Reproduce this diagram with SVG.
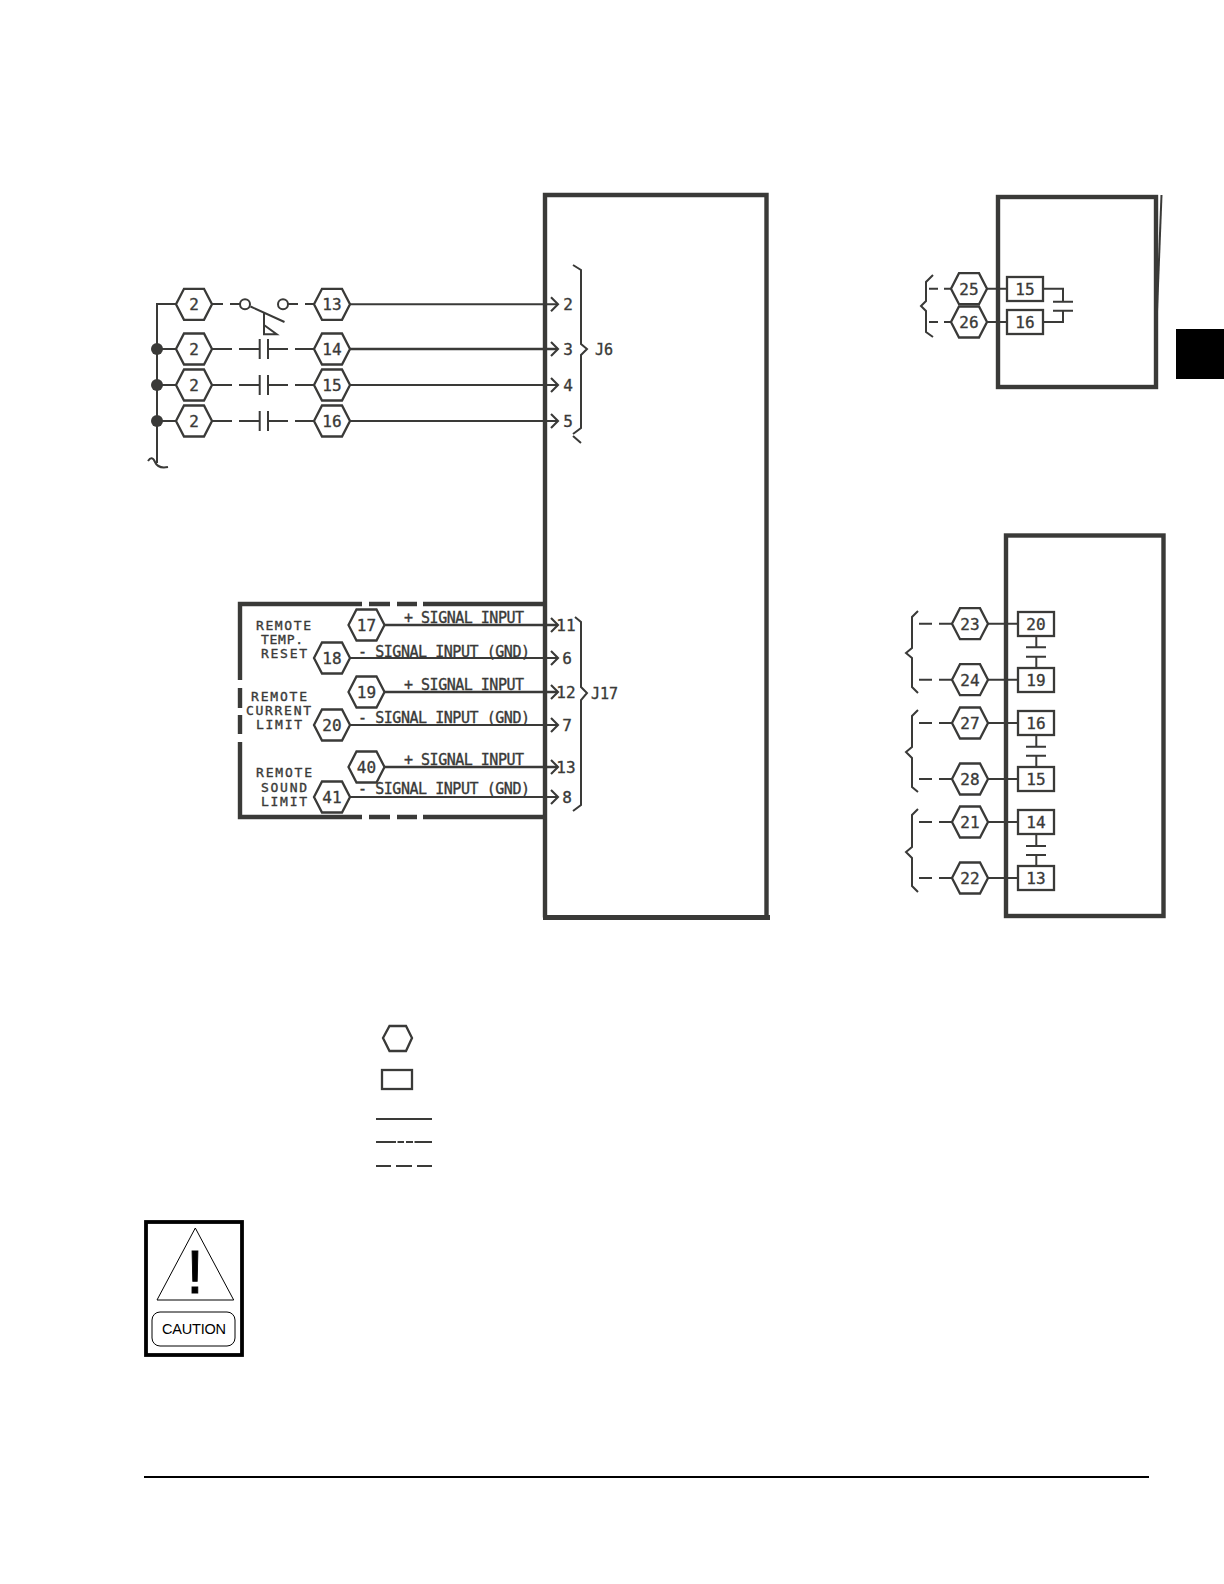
<svg xmlns="http://www.w3.org/2000/svg" width="1224" height="1584" viewBox="0 0 1224 1584">
<style>
.w{fill:none;stroke:#3a3a38;stroke-width:2}
.t{stroke-width:2.6}
.b{fill:none;stroke:#3a3a38;stroke-width:4.4}
.s{fill:#fff;stroke:#3a3a38;stroke-width:2.3}
.m{fill:#3a3a38;font-family:"DejaVu Sans Mono","Liberation Mono",monospace;font-size:15px;stroke:#3a3a38;stroke-width:.35}
.n{text-anchor:middle;font-size:16px}
.r{font-size:13px}
</style>
<defs>
<polygon id="hex" class="s" points="-18,0 -10,-15.5 10,-15.5 18,0 10,15.5 -10,15.5"/>
<marker id="arrow" markerUnits="userSpaceOnUse" markerWidth="12" markerHeight="18" refX="9" refY="9" orient="auto"><path d="M2,2 L9,9 L2,16" fill="none" stroke="#3a3a38" stroke-width="2.1"/></marker>
</defs>
<rect width="1224" height="1584" fill="#fff"/>
<g id="main-box"><path class="b" d="M545,917.5V195H766.5V917.5"/><path d="M543,917.5H770" fill="none" stroke="#3a3a38" stroke-width="5"/></g>
<g id="panel"><path class="b" d="M362,604H240V680M240,688V708M240,715V734M240,742V817H362M369,604H390M397,604H417M423,604H547M369,817H390M397,817H417M423,817H547"/></g>
<g id="box-top"><rect class="b" x="998" y="197" width="158" height="190"/><path class="w" d="M1161.5,195L1155.5,350"/></g>
<g id="box-bottom"><rect class="b" x="1006" y="535.5" width="157.5" height="380.5"/></g>
<rect id="tab" x="1176" y="329" width="48" height="50" fill="#000"/>
<g id="connectors">
<path class="w" d="M176,304H157V463M148,461Q152,455 155,462T168,467"/>
<path class="w" d="M157,349H176M157,385H176M157,421H176"/>
<circle cx="157" cy="349" r="6" fill="#3a3a38"/><circle cx="157" cy="385" r="6" fill="#3a3a38"/><circle cx="157" cy="421" r="6" fill="#3a3a38"/>
<path class="w" d="M212,304H223M230,304H240M287,304H298M305,304H314"/>
<circle class="w" cx="245" cy="304.3" r="5"/><circle class="w" cx="283" cy="304.3" r="5"/>
<path class="w" d="M250.5,306.5L284.5,322M264,313V334.3H276.7L264,325"/>
<path class="w" d="M212,349H232M239,349H259.5M259.7,339V359M268,339V359M268,349H288M295,349H314"/>
<path class="w" d="M212,385H232M239,385H259.5M259.7,375V395M268,375V395M268,385H288M295,385H314"/>
<path class="w" d="M212,421H232M239,421H259.5M259.7,411V431M268,411V431M268,421H288M295,421H314"/>
<g marker-end="url(#arrow)">
<path class="w" d="M350,304.3H558"/><path class="w t" d="M350,349H558"/><path class="w" d="M350,385H558"/><path class="w" d="M350,421H558"/>
<path class="w t" d="M384,625H558"/><path class="w" d="M350,658H558"/><path class="w t" d="M384,692H558"/><path class="w" d="M350,725H558"/><path class="w t" d="M384,767H558"/><path class="w" d="M350,797H558"/>
</g>
<path class="w" d="M573,265L581,270V344L587,349L581,355V428L573,434M573,436L581,443"/>
<path class="w" d="M575,617L581,622V687L587,693L581,700V805L573,811"/>
<path class="w" d="M933,275L926,282V301L921,306L926,311V332L933,337"/>
<path class="w" d="M929,288.7H938M944,288.7H952M929,322H938M944,322H952M986,288.7H1007M986,322H1007"/>
<path class="w" d="M1043,288.7H1063V301.7M1053,301.7H1073M1053,310.7H1073M1063,310.7V322H1043"/>
<path class="w" d="M918,611L912,617V648L906,653L912,658V687L918,693"/>
<path class="w" d="M918,710L912,716V747L906,752L912,758V787L918,792"/>
<path class="w" d="M918,809L912,815V847L906,852L912,858V886L918,892"/>
<path class="w" d="M919,623.7H932M939,623.7H952M919,679.7H932M939,679.7H952M919,723H932M939,723H952M919,779H932M939,779H952M919,822H932M939,822H952M919,878H932M939,878H952"/>
<path class="w" d="M988,623.7H1018M988,679.7H1018M988,723H1018M988,779H1018M988,822H1018M988,878H1018"/>
<path class="w" d="M1036.3,636V647.3M1026,647.3H1046M1026,656.7H1046M1036.3,656.7V668"/>
<path class="w" d="M1036.3,735V746.7M1026,746.7H1046M1026,755.7H1046M1036.3,755.7V767"/>
<path class="w" d="M1036.3,834V846M1026,846H1046M1026,855H1046M1036.3,855V866"/>
</g>
<g id="hex-2a"><use href="#hex" x="194" y="304.3"/><text class="m n" x="194" y="310">2</text></g>
<g id="hex-2b"><use href="#hex" x="194" y="349"/><text class="m n" x="194" y="355">2</text></g>
<g id="hex-2c"><use href="#hex" x="194" y="385"/><text class="m n" x="194" y="391">2</text></g>
<g id="hex-2d"><use href="#hex" x="194" y="421"/><text class="m n" x="194" y="427">2</text></g>
<g id="hex-13"><use href="#hex" x="332" y="304.3"/><text class="m n" x="332" y="310">13</text></g>
<g id="hex-14"><use href="#hex" x="332" y="349"/><text class="m n" x="332" y="355">14</text></g>
<g id="hex-15"><use href="#hex" x="332" y="385"/><text class="m n" x="332" y="391">15</text></g>
<g id="hex-16"><use href="#hex" x="332" y="421"/><text class="m n" x="332" y="427">16</text></g>
<g id="hex-17"><use href="#hex" x="366.5" y="625"/><text class="m n" x="366.5" y="631">17</text></g>
<g id="hex-18"><use href="#hex" x="332" y="658"/><text class="m n" x="332" y="664">18</text></g>
<g id="hex-19"><use href="#hex" x="366.5" y="692"/><text class="m n" x="366.5" y="698">19</text></g>
<g id="hex-20"><use href="#hex" x="332" y="725"/><text class="m n" x="332" y="731">20</text></g>
<g id="hex-40"><use href="#hex" x="366.5" y="767"/><text class="m n" x="366.5" y="773">40</text></g>
<g id="hex-41"><use href="#hex" x="332" y="797"/><text class="m n" x="332" y="803">41</text></g>
<g id="hex-25"><use href="#hex" x="969" y="288.7"/><text class="m n" x="969" y="294.5">25</text></g>
<g id="hex-26"><use href="#hex" x="969" y="322"/><text class="m n" x="969" y="328">26</text></g>
<g id="hex-23"><use href="#hex" x="970" y="623.7"/><text class="m n" x="970" y="629.5">23</text></g>
<g id="hex-24"><use href="#hex" x="970" y="679.7"/><text class="m n" x="970" y="685.5">24</text></g>
<g id="hex-27"><use href="#hex" x="970" y="723"/><text class="m n" x="970" y="729">27</text></g>
<g id="hex-28"><use href="#hex" x="970" y="779"/><text class="m n" x="970" y="785">28</text></g>
<g id="hex-21"><use href="#hex" x="970" y="822"/><text class="m n" x="970" y="828">21</text></g>
<g id="hex-22"><use href="#hex" x="970" y="878"/><text class="m n" x="970" y="884">22</text></g>
<g id="term-15a"><rect class="s" x="1007" y="277" width="36" height="24"/><text class="m n" x="1025" y="294.5">15</text></g>
<g id="term-16a"><rect class="s" x="1007" y="310" width="36" height="24"/><text class="m n" x="1025" y="328">16</text></g>
<g id="term-20"><rect class="s" x="1018" y="612" width="36" height="24"/><text class="m n" x="1036" y="629.5">20</text></g>
<g id="term-19"><rect class="s" x="1018" y="668" width="36" height="24"/><text class="m n" x="1036" y="685.5">19</text></g>
<g id="term-16b"><rect class="s" x="1018" y="711" width="36" height="24"/><text class="m n" x="1036" y="729">16</text></g>
<g id="term-15b"><rect class="s" x="1018" y="767" width="36" height="24"/><text class="m n" x="1036" y="785">15</text></g>
<g id="term-14"><rect class="s" x="1018" y="810" width="36" height="24"/><text class="m n" x="1036" y="828">14</text></g>
<g id="term-13"><rect class="s" x="1018" y="866" width="36" height="24"/><text class="m n" x="1036" y="884">13</text></g>
<g id="labels">
<text class="m n" x="568" y="310">2</text><text class="m n" x="568" y="355">3</text><text class="m n" x="568" y="391">4</text><text class="m n" x="568" y="427">5</text>
<text class="m" x="595" y="355">J6</text><text class="m" x="591" y="699">J17</text>
<text class="m n" x="566" y="631">11</text><text class="m n" x="567" y="664">6</text><text class="m n" x="566" y="698">12</text><text class="m n" x="567" y="731">7</text><text class="m n" x="566" y="773">13</text><text class="m n" x="567" y="803">8</text>
<text class="m" x="404" y="623" textLength="120">+ SIGNAL INPUT</text>
<text class="m" x="358" y="656.7" textLength="172">- SIGNAL INPUT (GND)</text>
<text class="m" x="404" y="690" textLength="120">+ SIGNAL INPUT</text>
<text class="m" x="358" y="723" textLength="172">- SIGNAL INPUT (GND)</text>
<text class="m" x="404" y="765" textLength="120">+ SIGNAL INPUT</text>
<text class="m" x="358" y="794" textLength="172">- SIGNAL INPUT (GND)</text>
<text class="m r" x="256" y="630" textLength="55">REMOTE</text><text class="m r" x="261" y="644" textLength="42">TEMP.</text><text class="m r" x="261" y="658" textLength="46">RESET</text>
<text class="m r" x="251" y="701" textLength="56">REMOTE</text><text class="m r" x="246" y="715" textLength="65">CURRENT</text><text class="m r" x="256" y="729" textLength="46">LIMIT</text>
<text class="m r" x="256" y="777" textLength="56">REMOTE</text><text class="m r" x="261" y="792" textLength="46">SOUND</text><text class="m r" x="261" y="806" textLength="46">LIMIT</text>
</g>
<g id="legend">
<polygon points="383,1038 389.5,1026 406,1026 412,1038 406,1051 389.5,1051" class="s"/>
<rect class="s" x="382" y="1070" width="30" height="19"/>
<path class="w" d="M376,1119H432M376,1142H396M397.5,1142H404M406,1142H413M414.5,1142H432M376,1166H391M396,1166H412M417,1166H432"/>
</g>
<g id="caution">
<rect x="146" y="1222" width="96" height="133" fill="#fff" stroke="#000" stroke-width="3.8"/>
<polygon points="195.3,1228 157,1300 233.7,1300" fill="none" stroke="#000" stroke-width="1"/>
<text x="195" y="1293" text-anchor="middle" font-family="Liberation Sans,sans-serif" font-size="61" stroke="#000" stroke-width=".9" fill="#000">!</text>
<rect x="152" y="1312" width="83" height="34" rx="8" fill="none" stroke="#000" stroke-width="1"/>
<text x="162" y="1334" font-family="Liberation Sans,sans-serif" font-size="14.5" textLength="64" fill="#000">CAUTION</text>
</g>
<path id="rule" d="M144,1477H1149" stroke="#000" stroke-width="2.2"/>
</svg>
